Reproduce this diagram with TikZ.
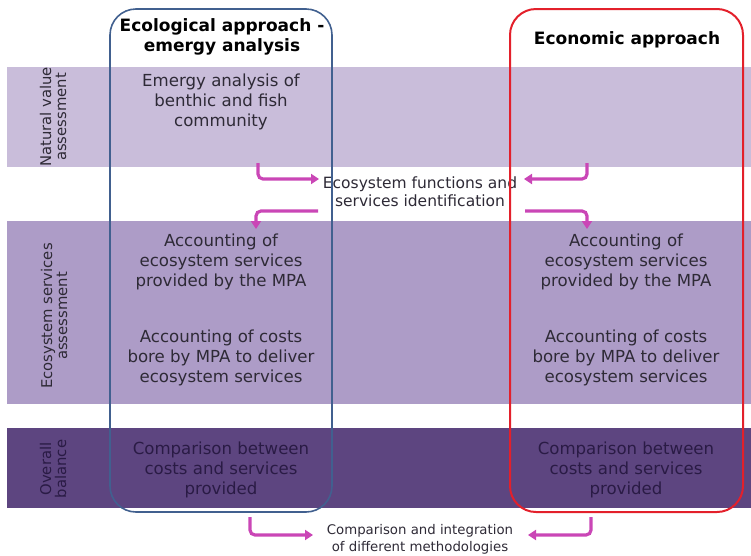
\documentclass[tikz,border=0pt]{standalone}
\usepackage{fontspec}
\setmainfont{DejaVu Sans}
\usetikzlibrary{arrows.meta,positioning}
\definecolor{bandlight}{HTML}{C9BDDA}
\definecolor{bandmid}{HTML}{AD9CC7}
\definecolor{banddark}{HTML}{5D4580}
\definecolor{ecoblue}{HTML}{41608F}
\definecolor{econred}{HTML}{E3202B}
\definecolor{flowpink}{HTML}{CA46B6}
\definecolor{inktext}{HTML}{2E2A36}
\definecolor{inkdark}{HTML}{2A1B45}

\begin{document}
\begin{tikzpicture}[
  x=1pt, y=-1pt,
  side/.style={rotate=90, align=center, text=inktext, font=\fontsize{14.8}{15}\selectfont},
  cell/.style={align=center, text=inktext, font=\fontsize{16.6}{20}\selectfont},
  head/.style={align=center, text=black, font=\bfseries\fontsize{17}{20}\selectfont},
  note/.style={align=center, text=inktext, inner sep=1pt},
  approach/.style={line width=1.6pt, rounded corners=26pt},
  line/.style={-{Triangle[length=8pt, width=10pt]}, line width=3.2pt, draw=flowpink, rounded corners=5pt}
]
\useasboundingbox (0,0) rectangle (751,555);

% bands
\fill[bandlight] (7,67) rectangle (751,167);
\fill[bandmid] (7,221) rectangle (751,404);
\fill[banddark] (7,428) rectangle (751,508);

% row labels
\node[side] (natural) at (53,117) {Natural value\\assessment};
\node[side] (services) at (54,316) {Ecosystem services\\assessment};
\node[side, text=inkdark] (overall) at (53,469) {Overall\\balance};

% column heads
\node[head] (ecohead) at (222,37) {Ecological approach -\\emergy analysis};
\node[head] (econhead) at (627,40) {Economic approach};

% cells
\node[cell] (emergy) at (221,102) {Emergy analysis of\\benthic and fish\\community};
\node[cell] (ecoserv) at (221,262) {Accounting of\\ecosystem services\\provided by the MPA};
\node[cell] (ecocost) at (221,358) {Accounting of costs\\bore by MPA to deliver\\ecosystem services};
\node[cell] (econserv) at (626,262) {Accounting of\\ecosystem services\\provided by the MPA};
\node[cell] (econcost) at (626,358) {Accounting of costs\\bore by MPA to deliver\\ecosystem services};
\node[cell, text=inkdark] (ecobal) at (221,470) {Comparison between\\costs and services\\provided};
\node[cell, text=inkdark] (econbal) at (626,470) {Comparison between\\costs and services\\provided};

% shared steps
\node[note, font=\fontsize{15.5}{18}\selectfont] (functions) at (420,192) {Ecosystem functions and\\services identification};
\node[note, font=\fontsize{13.3}{17}\selectfont] (integration) at (420,539) {Comparison and integration\\of different methodologies};

% arrow ends
\coordinate (ecoout) at (258,163);
\coordinate (econout) at (587,163);
\coordinate (funcinl) at (319,179);
\coordinate (funcinr) at (524,179);
\coordinate (funcoutl) at (318,211);
\coordinate (funcoutr) at (525,211);
\coordinate (ecoin) at (256,229);
\coordinate (econin) at (587,229);
\coordinate (ecobalout) at (250,517);
\coordinate (econbalout) at (591,517);
\coordinate (integinl) at (313,535);
\coordinate (integinr) at (528,535);

\draw[line] (ecoout) |- (funcinl);
\draw[line] (econout) |- (funcinr);
\draw[line] (funcoutl) -| (ecoin);
\draw[line] (funcoutr) -| (econin);
\draw[line] (ecobalout) |- (integinl);
\draw[line] (econbalout) |- (integinr);

% approach frames
\draw[approach, draw=ecoblue] (110,9) rectangle (332,512);
\draw[approach, draw=econred, line width=2pt] (510,9) rectangle (743,512);
\end{tikzpicture}
\end{document}
